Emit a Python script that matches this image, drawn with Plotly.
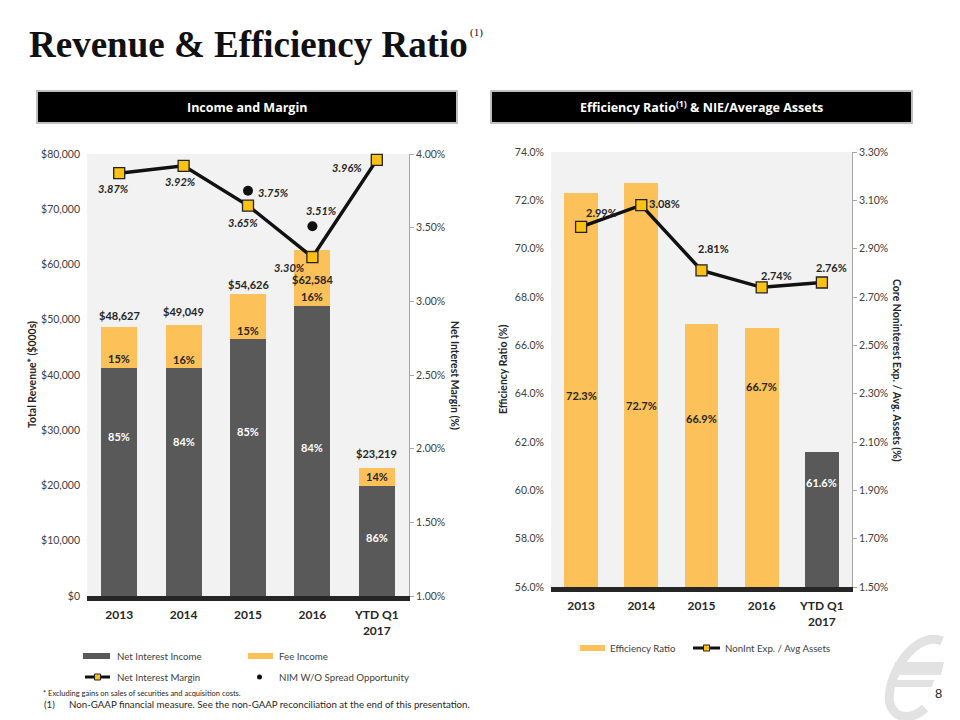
import plotly.graph_objects as go

# ---------------- data ----------------
categories = ["2013", "2014", "2015", "2016", "YTD Q1<br>2017"]
total_revenue = [48627, 49049, 54626, 62584, 23219]
net_interest_income = [41333, 41201, 46432, 52570, 19968]
fee_income = [7294, 7848, 8194, 10014, 3251]
nii_pct = [85, 84, 85, 84, 86]
fee_pct = [15, 16, 15, 16, 14]
nim = [3.87, 3.92, 3.65, 3.30, 3.96]
nim_wo_spread = [None, None, 3.75, 3.51, None]
efficiency_ratio = [72.3, 72.7, 66.9, 66.7, 61.6]
nonint_exp_avg_assets = [2.99, 3.08, 2.81, 2.74, 2.76]

# ---------------- styles ----------------
W, H = 960, 720
DARK = "#595959"
ORANGE = "#fcc159"
MARK = "#fdc113"
TXT = "#404040"
FONT = "Lato"


def px(x):
    return x / W


def py(y):
    return 1 - y / H


fig = go.Figure()

# Left chart: stacked bars
fig.add_trace(go.Bar(x=categories, y=net_interest_income, marker=dict(color=DARK, line_width=0),
                     xaxis="x", yaxis="y", name="Net Interest Income", hoverinfo="skip"))
fig.add_trace(go.Bar(x=categories, y=fee_income, marker=dict(color=ORANGE, line_width=0),
                     xaxis="x", yaxis="y", name="Fee Income", hoverinfo="skip"))
fig.add_trace(go.Scatter(x=categories, y=nim, mode="lines+markers", xaxis="x", yaxis="y2",
                         line=dict(color="#111111", width=3.5),
                         marker=dict(symbol="square", size=11, color=MARK, line=dict(color="#222222", width=1.3)),
                         cliponaxis=False, name="Net Interest Margin", hoverinfo="skip"))
fig.add_trace(go.Scatter(x=categories, y=nim_wo_spread, mode="markers", xaxis="x", yaxis="y2",
                         marker=dict(symbol="circle", size=10, color="#111111"),
                         cliponaxis=False, name="NIM W/O Spread Opportunity", hoverinfo="skip"))

# Right chart
eff_colors = [ORANGE, ORANGE, ORANGE, ORANGE, DARK]
fig.add_trace(go.Bar(x=categories, y=[v - 56 for v in efficiency_ratio], base=56,
                     marker=dict(color=eff_colors, line_width=0),
                     xaxis="x2", yaxis="y3", name="Efficiency Ratio", hoverinfo="skip"))
fig.add_trace(go.Scatter(x=categories, y=nonint_exp_avg_assets, mode="lines+markers", xaxis="x2", yaxis="y4",
                         line=dict(color="#111111", width=3.5),
                         marker=dict(symbol="square", size=11, color=MARK, line=dict(color="#222222", width=1.3)),
                         cliponaxis=False, name="NonInt Exp. / Avg Assets", hoverinfo="skip"))

tickfont = dict(family=FONT, size=10.5, color=TXT)
catfont = dict(family=FONT, size=12, color="#262626", weight="bold")

fig.update_layout(
    width=W, height=H, margin=dict(l=0, r=0, t=0, b=0, pad=0, autoexpand=False),
    paper_bgcolor="white", plot_bgcolor="#f2f2f2",
    barmode="stack", bargap=0.44, showlegend=False,
    xaxis=dict(domain=[px(87), px(409)], anchor="y", showline=True, linewidth=5, linecolor="#262626",
               ticks="", tickfont=catfont, showgrid=False, automargin=False, ticklabelstandoff=4),
    yaxis=dict(domain=[py(596), py(154)], anchor="x", range=[0, 80000], dtick=10000, tickprefix="$",
               tickformat=",", showgrid=False, zeroline=False, ticks="", tickfont=tickfont,
               ticklabelstandoff=6, automargin=False),
    yaxis2=dict(overlaying="y", side="right", anchor="x", range=[1.0, 4.0], tick0=1.0, dtick=0.5,
                tickformat=".2f", ticksuffix="%", showgrid=False, zeroline=False, showline=True,
                linecolor="#a6a6a6", linewidth=1, ticks="outside", ticklen=4, tickcolor="#a6a6a6",
                tickfont=tickfont, automargin=False),
    xaxis2=dict(domain=[px(551), px(852)], anchor="y3", showline=True, linewidth=5, linecolor="#262626",
                ticks="", tickfont=catfont, showgrid=False, ticklabelstandoff=4, automargin=False),
    yaxis3=dict(domain=[py(587), py(152)], anchor="x2", range=[56, 74], tick0=56, dtick=2, tickformat=".1f",
                ticksuffix="%", showgrid=False, zeroline=False, ticks="", tickfont=tickfont,
                ticklabelstandoff=6, automargin=False),
    yaxis4=dict(overlaying="y3", side="right", anchor="x2", range=[1.5, 3.3], tick0=1.5, dtick=0.2,
                tickformat=".2f", ticksuffix="%", showgrid=False, zeroline=False, showline=True,
                linecolor="#a6a6a6", linewidth=1, ticks="outside", ticklen=4, tickcolor="#a6a6a6",
                tickfont=tickfont, automargin=False),
)

ann = []
shapes = []


def text(x, y, t, size=11, color="#262626", family=FONT, xanchor="left", yanchor="middle", bold=False,
         italic=False, angle=0):
    ann.append(dict(x=px(x), y=py(y), xref="paper", yref="paper", text=t, showarrow=False,
                    xanchor=xanchor, yanchor=yanchor, textangle=angle,
                    font=dict(size=size, color=color, family=family,
                              weight="bold" if bold else "normal",
                              style="italic" if italic else "normal")))


# Title
text(27, 67, "Revenue &amp; Efficiency Ratio", size=37, color="#111111", family="Liberation Serif", bold=True,
     yanchor="bottom")
text(468, 33, "(1)", size=11, color="#111111", family="Liberation Serif")

# Section headers
shapes.append(dict(type="rect", xref="paper", yref="paper", x0=px(37), x1=px(457), y0=py(123), y1=py(91),
                   fillcolor="black", line=dict(color="#bfbfbf", width=2)))
shapes.append(dict(type="rect", xref="paper", yref="paper", x0=px(491), x1=px(912), y0=py(123), y1=py(91),
                   fillcolor="black", line=dict(color="#bfbfbf", width=2)))
text(247, 107, "Income and Margin", size=12.5, color="white", family="Open Sans", xanchor="center", bold=True)
text(701, 107, "Efficiency Ratio<sup>(1)</sup> &amp; NIE/Average Assets", size=12.5, color="white",
     family="Open Sans", xanchor="center", bold=True)

# Axis titles
text(32, 375, "Total Revenue* ($000s)", size=10.5, bold=True, xanchor="center", angle=-90)
text(455, 375, "Net Interest Margin (%)", size=10.5, bold=True, xanchor="center", angle=90)
text(503, 370, "Efficiency Ratio (%)", size=10.5, bold=True, xanchor="center", angle=-90)
text(897, 370, "Core Noninterest Exp. / Avg. Assets (%)", size=10.5, bold=True, xanchor="center", angle=90)

# Left chart data labels
total_shift = [12, 14, 10, -29, 14]
nii_label_frac = [0.70, 0.68, 0.64, 0.51, 0.53]
for i in range(len(categories)):
    ann.append(dict(x=i, y=total_revenue[i], xref="x", yref="y", text=f"${total_revenue[i]:,}",
                    showarrow=False, yshift=total_shift[i], yanchor="middle",
                    font=dict(family=FONT, size=11, color="#262626", weight="bold")))
    ann.append(dict(x=i, y=net_interest_income[i], xref="x", yref="y", text=f"{fee_pct[i]}%",
                    showarrow=False, yshift=9, yanchor="middle",
                    font=dict(family=FONT, size=11, color="#262626", weight="bold")))
    ann.append(dict(x=i, y=net_interest_income[i] * nii_label_frac[i], xref="x", yref="y",
                    text=f"{nii_pct[i]}%", showarrow=False, yanchor="middle",
                    font=dict(family=FONT, size=11, color="white", weight="bold")))

nim_off = [(-6, 15), (-3, 16), (-5, 17), (-23, 10), (-30, 8)]
for i, v in enumerate(nim):
    ann.append(dict(x=i, y=v, xref="x", yref="y2", text=f"{v:.2f}%", showarrow=False,
                    xshift=nim_off[i][0], yshift=-nim_off[i][1],
                    font=dict(family=FONT, size=11, color="#262626", weight="bold", style="italic")))
dot_off = {2: (25, 2), 3: (9, -16)}
for i, v in enumerate(nim_wo_spread):
    if v is not None:
        ann.append(dict(x=i, y=v, xref="x", yref="y2", text=f"{v:.2f}%", showarrow=False,
                        xshift=dot_off[i][0], yshift=-dot_off[i][1],
                        font=dict(family=FONT, size=11, color="#262626", weight="bold", style="italic")))

# Right chart data labels
eff_label_frac = [0.485, 0.45, 0.64, 0.776, 0.77]
for i, v in enumerate(efficiency_ratio):
    ann.append(dict(x=i, y=56 + (v - 56) * eff_label_frac[i], xref="x2", yref="y3", text=f"{v:.1f}%",
                    showarrow=False, yanchor="middle",
                    font=dict(family=FONT, size=11, color="white" if i == 4 else "#262626", weight="bold")))
ne_off = [(20, -14), (23, -2), (12, -22), (15, -12), (10, -15)]
for i, v in enumerate(nonint_exp_avg_assets):
    ann.append(dict(x=i, y=v, xref="x2", yref="y4", text=f"{v:.2f}%", showarrow=False,
                    xshift=ne_off[i][0], yshift=-ne_off[i][1],
                    font=dict(family=FONT, size=11, color="#262626", weight="bold")))


# Manual legends
def swatch(x0, x1, y, color):
    shapes.append(dict(type="rect", xref="paper", yref="paper", x0=px(x0), x1=px(x1), y0=py(y + 3),
                       y1=py(y - 3), fillcolor=color, line_width=0))


def line_swatch(x0, x1, y):
    shapes.append(dict(type="line", xref="paper", yref="paper", x0=px(x0), x1=px(x1), y0=py(y), y1=py(y),
                       line=dict(color="#111111", width=3)))
    xm = (x0 + x1) / 2
    shapes.append(dict(type="rect", xref="paper", yref="paper", x0=px(xm - 3), x1=px(xm + 3), y0=py(y + 3),
                       y1=py(y - 3), fillcolor=MARK, line=dict(color="#222222", width=1)))


LEG = 9.7
swatch(83, 110, 656, DARK)
text(115, 656, "Net Interest Income", size=LEG, color=TXT)
swatch(248, 273, 656, ORANGE)
text(277, 656, "Fee Income", size=LEG, color=TXT)
line_swatch(85, 110, 677)
text(115, 677, "Net Interest Margin", size=LEG, color=TXT)
shapes.append(dict(type="circle", xref="paper", yref="paper", x0=px(257), x1=px(262), y0=py(679.5),
                   y1=py(674.5), fillcolor="#111111", line_width=0))
text(277, 677, "NIM W/O Spread Opportunity", size=LEG, color=TXT)

swatch(580, 605, 648, ORANGE)
text(608, 648, "Efficiency Ratio", size=LEG, color=TXT)
line_swatch(693, 720, 648)
text(723, 648, "NonInt Exp. / Avg Assets", size=LEG, color=TXT)

# Footnotes
text(41, 693, "* Excluding gains on sales of securities and acquisition costs.", size=7.5, color="#262626")
text(42, 704, "(1)", size=9.7, color="#262626")
text(67, 704, "Non-GAAP financial measure. See the non-GAAP reconciliation at the end of this presentation.",
     size=9.7, color="#262626")

# Logo (decorative)
LOGO = "#e2e2e2"
logo_arc = "M {} {} C {} {} {} {} {} {} C {} {} {} {} {} {}".format(
    px(942), py(641), px(912), py(628), px(878), py(690), px(893), py(710),
    px(900), py(720), px(915), py(718), px(925), py(708))
shapes.append(dict(type="path", xref="paper", yref="paper", path=logo_arc,
                   line=dict(color=LOGO, width=9), layer="below"))
for (a, b, c, d) in [((895, 662), (944, 662), (941, 675), (892, 675)),
                     ((891, 680), (934, 680), (932, 687), (889, 687))]:
    shapes.append(dict(type="path", xref="paper", yref="paper",
                       path="M {} {} L {} {} L {} {} L {} {} Z".format(px(a[0]), py(a[1]), px(b[0]), py(b[1]),
                                                                   px(c[0]), py(c[1]), px(d[0]), py(d[1])),
                       fillcolor=LOGO, line_width=0, layer="below"))
text(938, 693, "8", size=13, color="#262626", family="Liberation Sans", xanchor="center")

fig.update_layout(annotations=ann, shapes=shapes)
fig.write_html("out.html")
